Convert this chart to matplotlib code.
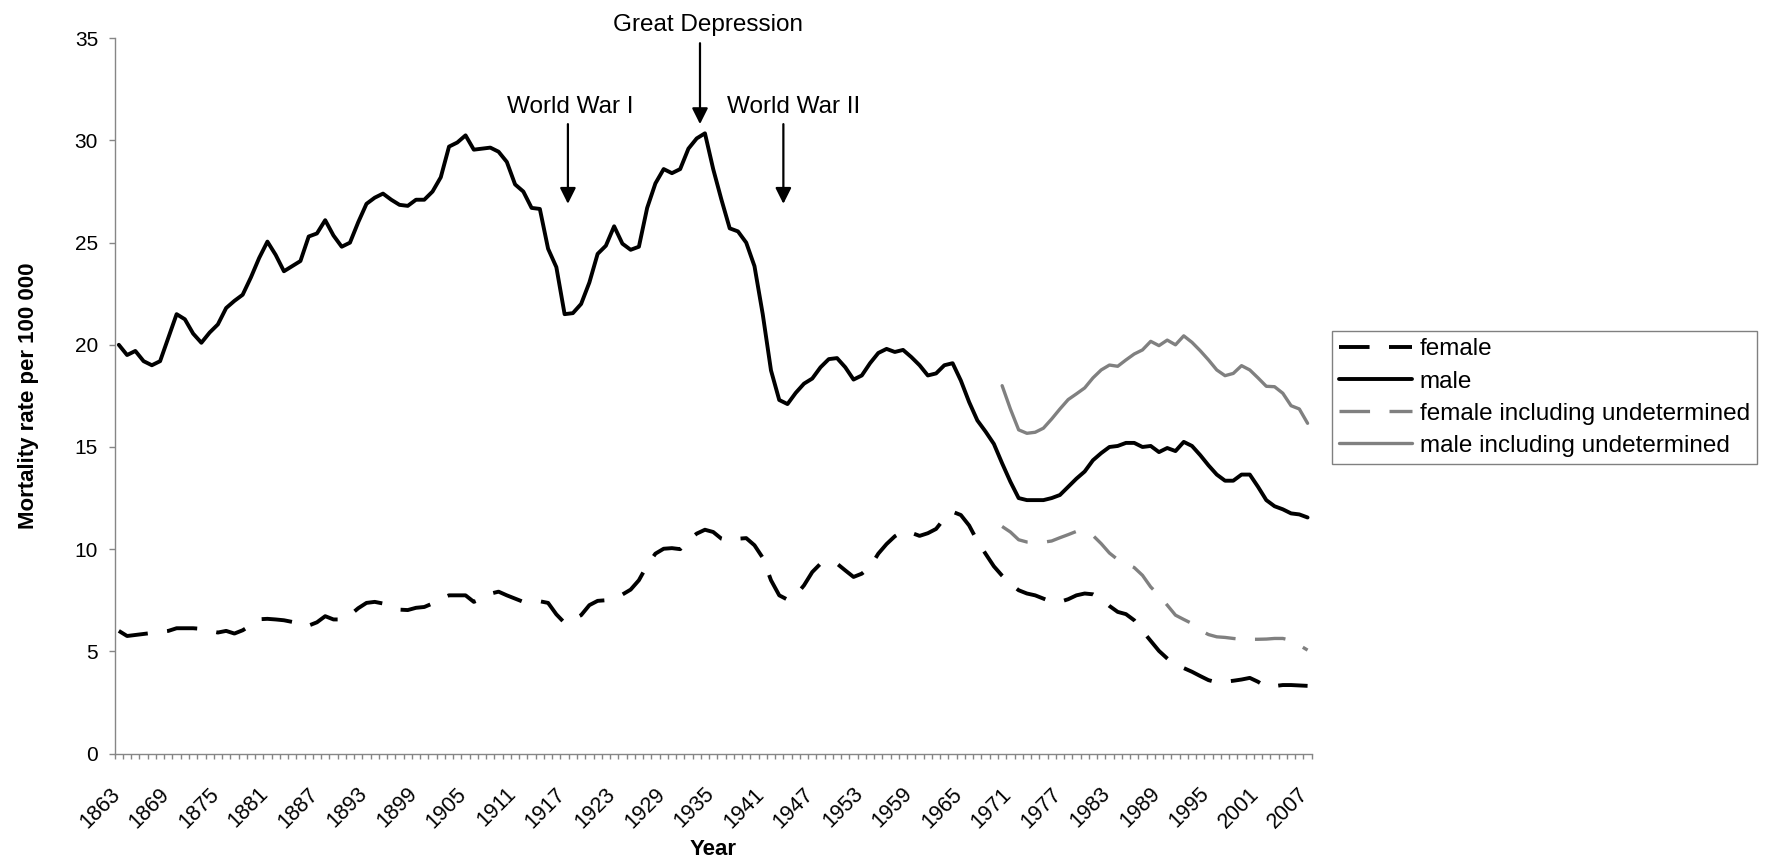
import numpy as np
import matplotlib
matplotlib.use("Agg")
import matplotlib.pyplot as plt
import matplotlib.transforms as mtransforms

plt.rcParams['font.family'] = ['Liberation Sans', 'DejaVu Sans']
plt.rcParams['lines.scale_dashes'] = False

# ---------------- data ----------------
years = list(range(1863, 2008))

male = [
    20.0, 19.5, 19.7, 19.2, 19.0, 19.2, 20.35, 21.5, 21.25, 20.55,
    20.1, 20.6, 21.0, 21.8, 22.15, 22.45, 23.3, 24.25, 25.05, 24.4,
    23.6, 23.85, 24.1, 25.3, 25.45, 26.1, 25.35, 24.8, 25.0, 26.0,
    26.9, 27.2, 27.4, 27.1, 26.85, 26.8, 27.1, 27.1, 27.5, 28.2,
    29.7, 29.9, 30.25, 29.55, 29.6, 29.65, 29.45, 28.95, 27.85, 27.5,
    26.7, 26.65, 24.7, 23.8, 21.5, 21.55, 22.0, 23.05, 24.45, 24.85,
    25.8, 24.95, 24.65, 24.8, 26.7, 27.9, 28.6, 28.4, 28.6, 29.6,
    30.1, 30.35, 28.6, 27.1, 25.7, 25.55, 25.0, 23.85, 21.5, 18.75,
    17.3, 17.1, 17.65, 18.1, 18.35, 18.9, 19.3, 19.35, 18.9, 18.3,
    18.5, 19.1, 19.6, 19.8, 19.65, 19.75, 19.4, 19.0, 18.5, 18.6,
    19.0, 19.1, 18.25, 17.2, 16.3, 15.75, 15.15, 14.2, 13.3, 12.5,
    12.4, 12.4, 12.4, 12.5, 12.65, 13.05, 13.45, 13.8, 14.35, 14.7,
    15.0, 15.05, 15.2, 15.2, 15.0, 15.05, 14.75, 14.95, 14.8, 15.25,
    15.05, 14.6, 14.1, 13.65, 13.35, 13.35, 13.65, 13.65, 13.05, 12.4,
    12.1, 11.95, 11.75, 11.7, 11.55,
]

female = [
    6.0, 5.75, 5.8, 5.85, 5.9, 5.95, 6.0, 6.13, 6.13, 6.13,
    6.1, 6.0, 5.92, 6.0, 5.87, 6.03, 6.28, 6.57, 6.59, 6.56,
    6.52, 6.44, 6.23, 6.26, 6.42, 6.72, 6.56, 6.56, 6.77, 7.11,
    7.37, 7.42, 7.34, 7.17, 7.04, 7.02, 7.13, 7.17, 7.34, 7.58,
    7.74, 7.74, 7.74, 7.42, 7.58, 7.82, 7.92, 7.74, 7.58, 7.42,
    7.42, 7.45, 7.37, 6.81, 6.39, 6.56, 6.77, 7.26, 7.47, 7.5,
    7.6, 7.78, 8.02, 8.48, 9.21, 9.78, 10.02, 10.05, 10.0, 10.43,
    10.76, 10.95, 10.84, 10.51, 10.4, 10.51, 10.54, 10.19, 9.58, 8.48,
    7.74, 7.53, 7.74, 8.23, 8.88, 9.29, 9.37, 9.29, 8.96, 8.64,
    8.8, 9.13, 9.78, 10.25, 10.63, 10.88, 10.8, 10.65, 10.78, 10.99,
    11.5, 11.83, 11.67, 11.16, 10.4, 9.77, 9.16, 8.7, 8.31, 7.99,
    7.83, 7.74, 7.58, 7.42, 7.42, 7.55, 7.74, 7.83, 7.79, 7.58,
    7.22, 6.93, 6.82, 6.52, 6.0, 5.51, 5.02, 4.65, 4.3, 4.18,
    4.0, 3.79, 3.59, 3.48, 3.51, 3.56, 3.62, 3.7, 3.51, 3.26,
    3.3, 3.35, 3.35, 3.33, 3.31,
]

undet_years = list(range(1970, 2008))

female_undet = [
    11.11, 10.84, 10.46, 10.35, 10.34, 10.34, 10.4, 10.56, 10.71, 10.87,
    10.84, 10.67, 10.27, 9.81, 9.49, 9.29, 9.1, 8.72, 8.15, 7.74,
    7.26, 6.77, 6.56, 6.36, 6.03, 5.82, 5.71, 5.68, 5.63, 5.59,
    5.59, 5.59, 5.6, 5.63, 5.63, 5.54, 5.3, 5.06,
]

male_undet = [
    18.0, 16.86, 15.84, 15.67, 15.72, 15.92, 16.37, 16.86, 17.32, 17.6,
    17.89, 18.38, 18.77, 19.01, 18.95, 19.26, 19.55, 19.75, 20.17, 19.96,
    20.23, 20.0, 20.44, 20.12, 19.71, 19.26, 18.77, 18.49, 18.6, 18.98,
    18.77, 18.38, 17.97, 17.95, 17.63, 17.02, 16.86, 16.16,
]

series_labels = ["female", "male", "female including undetermined",
                 "male including undetermined"]

# ---------------- figure ----------------
fig = plt.figure(figsize=(17.76, 8.66), dpi=100)
ax = fig.add_axes([114.7 / 1776, 1 - 753.5 / 866,
                   (1311.7 - 114.7) / 1776, (753.5 - 38.3) / 866])

x = np.arange(len(years))
xu = np.array([years.index(y) for y in undet_years])

BLACK = "#000000"
GREY = "#808080"
DASH = (22, 14)

l1, = ax.plot(x, female, color=BLACK, lw=2.8, dashes=DASH,
              solid_joinstyle='round', label=series_labels[0])
l2, = ax.plot(x, male, color=BLACK, lw=2.8, solid_capstyle='round',
              solid_joinstyle='round', label=series_labels[1])
l3, = ax.plot(xu, female_undet, color=GREY, lw=2.4, dashes=DASH,
              label=series_labels[2])
l4, = ax.plot(xu, male_undet, color=GREY, lw=2.4, solid_capstyle='round',
              solid_joinstyle='round', label=series_labels[3])

# axes styling
ax.set_xlim(-0.5, len(years) - 0.5)
ax.set_ylim(0, 35)
ax.set_yticks(range(0, 36, 5))
for s in ("top", "right"):
    ax.spines[s].set_visible(False)
for s in ("left", "bottom"):
    ax.spines[s].set_color("#868686")
    ax.spines[s].set_linewidth(1.0)

ax.tick_params(axis='y', direction='out', length=4, width=1.0,
               color="#868686", labelsize=15, pad=8)

label_idx = list(range(0, len(years), 6))
ax.set_xticks(label_idx)
ax.set_xticklabels([str(years[i]) for i in label_idx], rotation=45,
                   ha='right', va='center', rotation_mode='anchor')
ax.set_xticks(np.arange(-0.5, len(years) + 0.5, 1.0), minor=True)
ax.tick_params(axis='x', which='major', length=0, labelsize=15.5, pad=27)
ax.tick_params(axis='x', which='minor', direction='out', length=3.8,
               width=1.0, color="#868686")
offset = mtransforms.ScaledTranslation(-2 / 100, 0, fig.dpi_scale_trans)
for lab in ax.get_xticklabels():
    lab.set_transform(lab.get_transform() + offset)

ax.set_xlabel("Year", fontsize=16, fontweight='bold')
ax.xaxis.label.set_va('center')
ax.xaxis.set_label_coords(0.5, -0.1345)
ax.set_ylabel("Mortality rate per 100 000", fontsize=16, fontweight='bold')
ax.yaxis.label.set_va('center')
ax.yaxis.set_label_coords(-0.0724, 0.5)

# annotations (positions in category index units)
def yidx(yr):
    return yr - years[0]

arrow_kw = dict(arrowstyle='-|>', color='black', lw=1.6,
                mutation_scale=24, shrinkA=0, shrinkB=0)
events = [("World War I", 1917.4, 1917.65, 31.63, 30.8, 26.9),
          ("Great Depression", 1933.4, 1934.4, 35.64, 34.76, 30.8),
          ("World War II", 1943.5, 1944.8, 31.63, 30.8, 26.9)]
for text, xa, xt, yt, y0, y1 in events:
    ax.annotate("", xy=(yidx(xa), y1), xytext=(yidx(xa), y0),
                arrowprops=arrow_kw, annotation_clip=False)
    ax.text(yidx(xt), yt, text, ha='center', va='center', fontsize=17.5,
            clip_on=False)

leg = ax.legend(handles=[l1, l2, l3, l4], loc='upper left',
                bbox_to_anchor=(1332 / 1776, 1 - 331 / 866),
                bbox_transform=fig.transFigure, fontsize=17.5,
                frameon=True, fancybox=False, shadow=False,
                edgecolor="#808080", framealpha=1,
                handlelength=3.0, handletextpad=0.3, labelspacing=0.42,
                borderpad=0.3, borderaxespad=0)
leg.get_frame().set_linewidth(1.0)

fig.savefig("out.png", dpi=100)
